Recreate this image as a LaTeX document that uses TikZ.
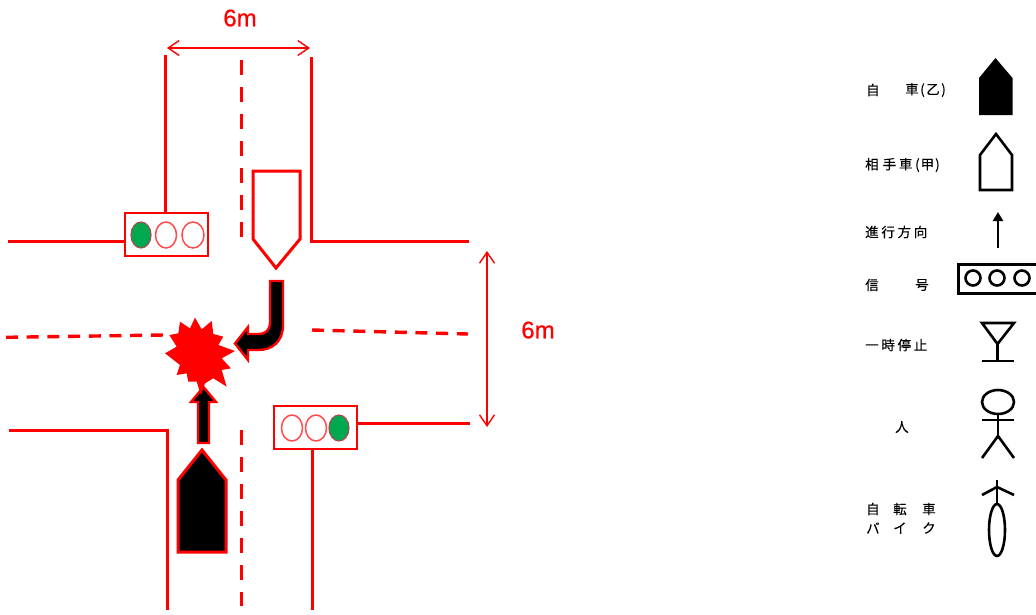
\documentclass[tikz,border=0pt]{standalone}
\usepackage{fontspec}
\setmainfont{Liberation Sans}
\newfontfamily\jp[LetterSpace=20,FakeBold=0.25]{Noto Sans CJK JP}
\newfontfamily\dimfont[FakeBold=0.6]{Liberation Sans}
\usetikzlibrary{arrows.meta}
\definecolor{sgreen}{RGB}{0,168,80}
\tikzset{
  road/.style={draw=red,line width=3pt},
  centerdash/.style={draw=red,line width=3pt,dash pattern=on 15pt off 12pt},
  crossdash/.style={draw=red,line width=3.4pt,dash pattern=on 12pt off 8.7pt},
  dim/.style={draw=red,line width=1.4pt,{Straight Barb[length=11pt,width=15pt,line width=1.4pt]}-{Straight Barb[length=11pt,width=15pt,line width=1.4pt]}},
  dimlabel/.style={text=red,font=\dimfont\fontsize{24}{24}\selectfont},
  sigbox/.style={draw=red,fill=white,line width=2.8pt},
  lampoff/.style={draw=red!70,fill=white,line width=1.5pt},
  lampon/.style={draw=red!50!black!70,fill=sgreen,line width=1.2pt},
  movearrow/.style={draw=red,fill=black,line width=2.4pt,line join=miter},
  legendtext/.style={font=\jp\fontsize{13.5}{13.5}\selectfont,anchor=west,inner sep=0pt,text=black},
  sym/.style={draw=black,line width=2.6pt},
}
\begin{document}
\begin{tikzpicture}[x=1pt,y=-1pt]
\useasboundingbox (0,0) rectangle (1036,614);
% roads
\draw[road] (165,55) -- (165,213);
\draw[road] (311,57) -- (311,241) -- (469,241);
\draw[road] (8,241) -- (125,241);
\draw[road] (9,430) -- (167,430) -- (167,610);
\draw[road] (357,423) -- (470,423);
\draw[road] (312,449) -- (312,610);
\draw[centerdash] (241,60) -- (241,237);
\draw[centerdash] (241,430) -- (241,606);
\draw[crossdash] (6,337.3) -- (164,335);
\draw[crossdash] (312,330) -- (468,334);
% dimensions
\draw[dim] (167,48) -- (310,48);
\draw[dim] (487,251) -- (487,427);
\node[dimlabel] (wlabel) at (240,18) {6m};
\node[dimlabel] (hlabel) at (538,330) {6m};
% signals
\draw[sigbox] (125,213) rectangle (208,256);
\draw[lampon] (141,235) ellipse [x radius=10,y radius=13];
\draw[lampoff] (166,235) ellipse [x radius=10.5,y radius=13];
\draw[lampoff] (193,235) ellipse [x radius=11,y radius=13];
\draw[sigbox] (274,406) rectangle (357,449);
\draw[lampoff] (292,428) ellipse [x radius=10.5,y radius=13];
\draw[lampoff] (316,428) ellipse [x radius=10.5,y radius=13];
\draw[lampon] (339,428) ellipse [x radius=10,y radius=13];
% cars
\draw[draw=red,fill=white,line width=3pt] (253,171) -- (300,171) -- (300,239) -- (276,268) -- (253,239) -- cycle;
\draw[draw=red,fill=black,line width=3pt] (178,552) -- (226,552) -- (226,480) -- (202,450) -- (178,480) -- cycle;
% movement arrows
\draw[movearrow] (270,281) -- (283,281) -- (283,325) .. controls (283,342) and (272,350) .. (258,350) -- (248,350) -- (248,360) -- (235,343.5) -- (248,327) -- (248,334) -- (258,334) .. controls (266,334) and (270,330) .. (270,322) -- cycle;
\draw[movearrow] (198,443) -- (209,443) -- (209,402) -- (216,402) -- (203.5,387) -- (191,402) -- (198,402) -- cycle;
% collision
\begin{scope}[shift={(150,270)},x=0.3333pt,y=-0.3333pt]
\fill[red] (135,143) -- (155,178) -- (185,153) -- (190,192) -- (220,200) -- (205,225) -- (255,243) -- (215,265) -- (243,295) -- (215,300) -- (230,350) -- (190,325) -- (165,340) -- (153,375) -- (140,335) -- (115,335) -- (110,310) -- (80,315) -- (90,285) -- (45,250) -- (80,230) -- (58,195) -- (85,190) -- (90,155) -- (120,175) -- cycle;
\end{scope}
% legend text
\node[legendtext] (t1a) at (866,90) {自};
\node[legendtext] (t1b) at (905,90) {車\hspace{1.5pt}(\hspace{1.5pt}乙\hspace{1.5pt})};
\node[legendtext] (t2) at (865,165) {相\hspace{4pt}手車(\hspace{1pt}甲\hspace{1pt})};
\node[legendtext] (t3) at (865,232) {進行方向};
\node[legendtext] (t4a) at (865,285) {信};
\node[legendtext] (t4b) at (915,285) {号};
\node[legendtext] (t5) at (865,345) {一時停止};
\node[legendtext] (t6) at (895,427) {人};
\node[legendtext] (t7a) at (866,509) {自};
\node[legendtext] (t7b) at (893,509) {転};
\node[legendtext] (t7c) at (922,509) {車};
\node[legendtext] (t8a) at (866,528) {バ};
\node[legendtext] (t8b) at (893,528) {イ};
\node[legendtext] (t8c) at (922,528) {ク};
% legend symbols
\fill[black] (979,115) -- (1012.5,115) -- (1012.5,78) -- (995.5,58) -- (979,78) -- cycle;
\draw[sym] (980,190) -- (1012,190) -- (1012,155) -- (996,134) -- (980,155) -- cycle;
\draw[sym,-{Triangle[length=9pt,width=10pt]}] (998,248) -- (998,212);
\draw[draw=black,line width=3pt] (1040,264) -- (958,264) -- (958,293) -- (1040,293);
\draw[sym] (973,278) circle (7.5);
\draw[sym] (997,278) circle (7.5);
\draw[sym] (1022,278) circle (7.5);
\draw[sym] (982,323) -- (1014,323) -- (997.5,344) -- cycle;
\draw[sym] (997.5,344) -- (997.5,361);
\draw[sym] (982,361) -- (1014,361);
\draw[sym] (998,402) ellipse [x radius=16,y radius=12];
\draw[sym] (998,414) -- (998,436);
\draw[sym] (982,420) -- (1014,420);
\draw[sym] (982,458) -- (998,436) -- (1014,458);
\draw[sym] (997,480) -- (997,503);
\draw[sym] (982,495) -- (997,487) -- (1014,495);
\draw[sym] (997,530) ellipse [x radius=8,y radius=26];
\end{tikzpicture}
\end{document}
